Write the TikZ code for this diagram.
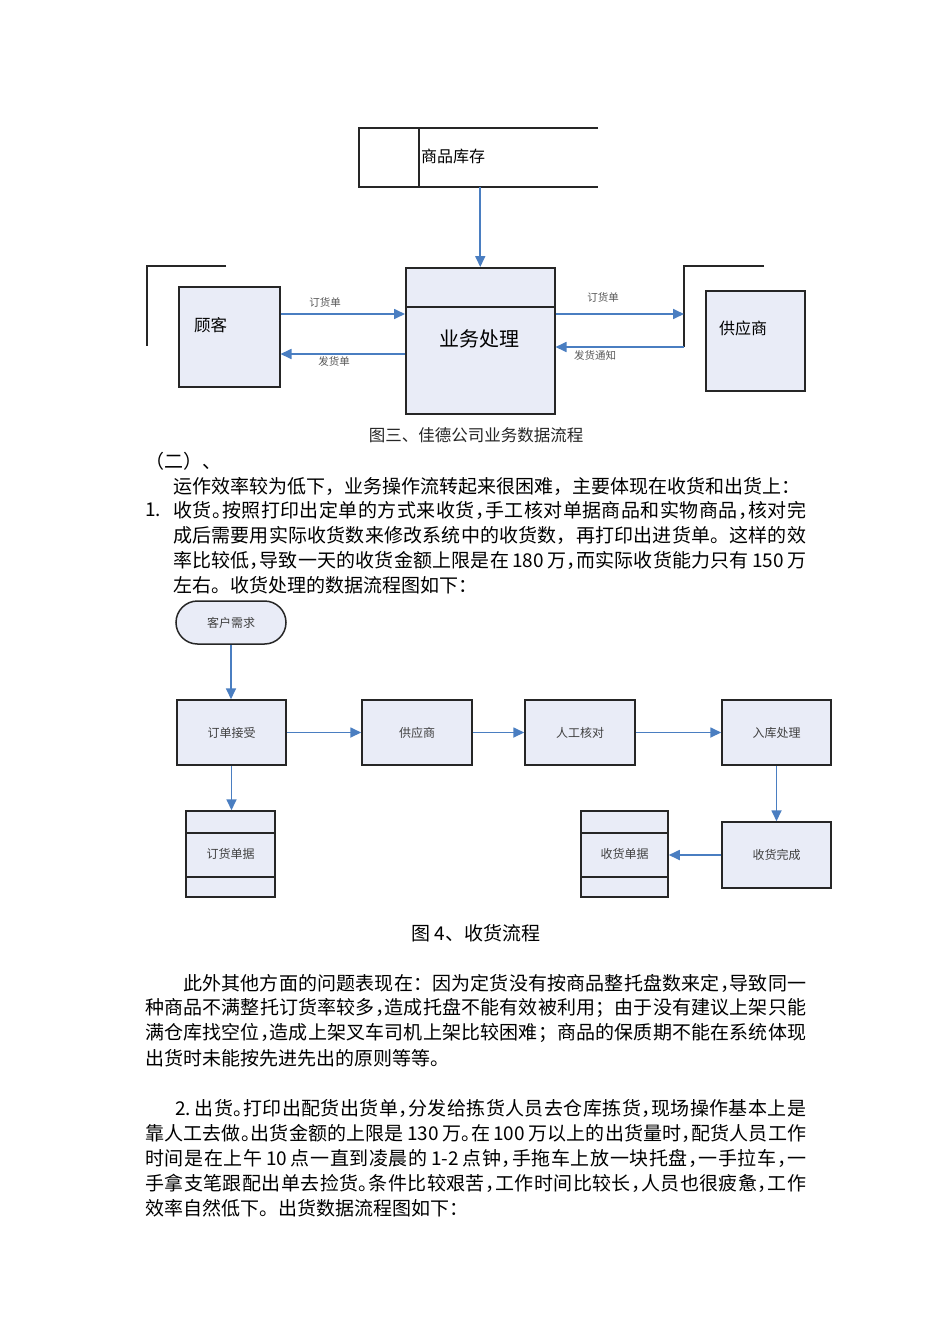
\documentclass[tikz,border=0pt]{standalone}
\usepackage{fontspec}
\setmainfont{Noto Sans CJK SC}
\newfontfamily\halffont[RawFeature=+halt]{Noto Sans CJK SC}
\usetikzlibrary{arrows.meta,shapes.misc}
\hbadness=10000 \hfuzz=50pt
\definecolor{boxfill}{RGB}{233,236,247}
\definecolor{flowblue}{RGB}{74,126,193}
\newcommand\fsz[1]{\fontsize{#1}{#1}\selectfont}
\newcommand\hcm{{\halffont ，}}
\newcommand\hpd{{\halffont 。}}
\makeatletter
\def\jl@end{JLEND@}
\newcommand\jl[2]{\hbox to #1{\jl@a#2\jl@end}}
\def\jl@a#1{\ifx\jl@end#1\else#1\expandafter\jl@b\fi}
\def\jl@b#1{\ifx\jl@end#1\else\hfil#1\expandafter\jl@b\fi}
\makeatother
\tikzset{
 pbox/.style={draw=black!85, line width=1.5pt, fill=boxfill, inner sep=0pt},
 flow/.style={draw=flowblue, line width=1.7pt, -{Triangle[length=11pt,width=10pt]}},
 ln/.style={draw=black!85, line width=1.5pt},
 lbl/.style={font=\fsz{10.5}, text=black!65, inner sep=0pt},
 dlbl/.style={font=\fsz{12}, text=black!75},
 body/.style={anchor=west, inner sep=0pt, font=\fsz{19}},
}
\begin{document}
\begin{tikzpicture}[x=1pt,y=-1pt]
\path[use as bounding box, fill=white] (0,0) rectangle (950,1344);

% ---------- diagram 1 ----------
\draw[ln] (598,128) -- (359,128) -- (359,187) -- (598,187);
\draw[ln] (419,128) -- (419,187);
\node[anchor=west, font=\fsz{16}, inner sep=0pt] (inv) at (421,156) {商品库存};
\node[pbox, minimum width=149pt, minimum height=146pt, anchor=north west] (proc) at (405,267) {};
\draw[ln] (proc.west |- 0,307) -- (proc.east |- 0,307);
\node[font=\fsz{20}] (proct) at (479.5,339) {业务处理};
\coordinate (invb) at (proc.north |- 0,187);
\draw[flow] (invb) -- (proc.north);

\draw[ln] (226,266) -- (147,266) -- (147,346);
\node[pbox, minimum width=101pt, minimum height=100pt, anchor=north west] (cust) at (178,286) {};
\node[anchor=west, font=\fsz{16.5}, inner sep=0pt] (custt) at (194,325) {顾客};
\draw[flow] (cust.east |- 0,314) -- (proc.west |- 0,314);
\draw[flow] (proc.west |- 0,354) -- (cust.east |- 0,354);
\node[lbl] (l1) at (325,302) {订货单};
\node[lbl] (l2) at (334,361) {发货单};

\draw[ln] (764,266) -- (684,266) -- (684,347) coordinate (sret);
\coordinate (sin) at (684,314);
\draw[flow] (proc.east |- sin) -- (sin);
\draw[flow] (sret) -- (proc.east |- sret);
\node[pbox, minimum width=99pt, minimum height=100pt, anchor=north west] (sup) at (705,290) {};
\node[anchor=west, font=\fsz{16}, inner sep=0pt] (supt) at (719,328) {供应商};
\node[lbl] (l3) at (603,297) {订货单};
\node[lbl] (l4) at (595,355) {发货通知};

\node[font=\fsz{16.5}, text=black!85] (cap1) at (476,435) {图三、佳德公司业务数据流程};

% ---------- text 1 ----------
\node[body] (t0) at (145,461) {（二）、};
\node[body] (t1) at (173,486) {运作效率较为低下，业务操作流转起来很困难，主要体现在收货和出货上：};
\node[body] (t2n) at (145,510) {1.};
\node[body] (t2) at (173,510) {\jl{633pt}{收货\hpd 按照打印出定单的方式来收货\hcm 手工核对单据商品和实物商品\hcm 核对完}};
\node[body] (t3) at (173,535) {\jl{633pt}{成后需要用实际收货数来修改系统中的收货数，再打印出进货单。这样的效}};
\node[body] (t4) at (173,560) {\jl{633pt}{率比较低\hcm 导致一天的收货金额上限是在{\,180\,}万\hcm 而实际收货能力只有{\,150\,}万}};
\node[body] (t5) at (173,585) {左右。收货处理的数据流程图如下：};

% ---------- diagram 2 ----------
\node[pbox, rounded rectangle, minimum width=110pt, minimum height=43pt, dlbl] (req) at (231,622.5) {客户需求};
\node[pbox, minimum width=109pt, minimum height=65pt, dlbl] (order) at (231.5,732.5) {订单接受};
\node[pbox, minimum width=110pt, minimum height=65pt, dlbl] (supp) at (417,732.5) {供应商};
\node[pbox, minimum width=110pt, minimum height=65pt, dlbl] (check) at (580,732.5) {人工核对};
\node[pbox, minimum width=109pt, minimum height=65pt, dlbl] (stock) at (776.5,732.5) {入库处理};
\node[pbox, minimum width=109pt, minimum height=66pt, dlbl] (done) at (776.5,855) {收货完成};
\node[pbox, minimum width=89pt, minimum height=86pt, dlbl] (ostore) at (230.5,854) {订货单据};
\node[pbox, minimum width=87pt, minimum height=86pt, dlbl] (rstore) at (624.5,854) {收货单据};
\draw[ln] (ostore.west |- 0,833) -- (ostore.east |- 0,833);
\draw[ln] (ostore.west |- 0,877) -- (ostore.east |- 0,877);
\draw[ln] (rstore.west |- 0,833) -- (rstore.east |- 0,833);
\draw[ln] (rstore.west |- 0,877) -- (rstore.east |- 0,877);

\draw[flow] (req.south) -- (req.south |- order.north);
\draw[flow] (order.east) -- (supp.west);
\draw[flow] (supp.east) -- (check.west);
\draw[flow] (check.east) -- (stock.west);
\draw[flow] (order.south) -- (order.south |- ostore.north);
\draw[flow] (stock.south) -- (done.north);
\draw[flow] (done.west) -- (rstore.east |- done.west);

\node[font=\fsz{19}] (cap2) at (476,933) {图 4、收货流程};

% ---------- text 2 ----------
\node[body] (u1) at (183,983) {\jl{623pt}{此外其他方面的问题表现在：因为定货没有按商品整托盘数来定\hcm 导致同一}};
\node[body] (u2) at (145,1008) {\jl{661pt}{种商品不满整托订货率较多\hcm 造成托盘不能有效被利用；由于没有建议上架只能}};
\node[body] (u3) at (145,1033) {\jl{661pt}{满仓库找空位\hcm 造成上架叉车司机上架比较困难；商品的保质期不能在系统体现}};
\node[body] (u4) at (145,1058) {出货时未能按先进先出的原则等等。};
\node[body] (v1) at (175,1108) {\jl{631pt}{{2.\,}出货\hpd 打印出配货出货单\hcm 分发给拣货人员去仓库拣货\hcm 现场操作基本上是}};
\node[body] (v2) at (145,1133) {\jl{661pt}{靠人工去做\hpd 出货金额的上限是{\,130\,}万\hpd 在{\,100\,}万以上的出货量时\hcm 配货人员工作}};
\node[body] (v3) at (145,1158) {\jl{661pt}{时间是在上午{\,10\,}点一直到凌晨的{\,1-2\,}点钟\hcm 手拖车上放一块托盘\hcm 一手拉车\hcm 一}};
\node[body] (v4) at (145,1183) {\jl{661pt}{手拿支笔跟配出单去捡货\hpd 条件比较艰苦\hcm 工作时间比较长\hcm 人员也很疲惫\hcm 工作}};
\node[body] (v5) at (145,1208) {效率自然低下。出货数据流程图如下：};
\end{tikzpicture}
\end{document}
